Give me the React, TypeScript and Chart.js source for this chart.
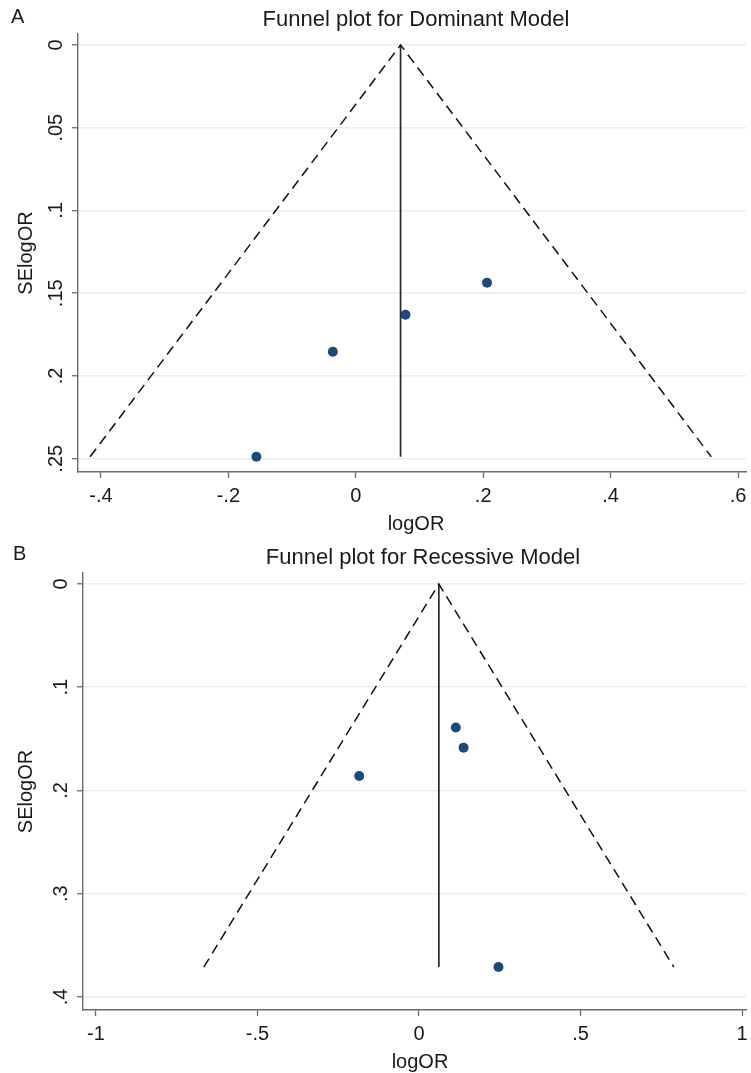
import React, { useEffect, useRef } from 'react';
import { Chart, registerables } from 'chart.js';

Chart.register(...registerables);

const FONT = "'Liberation Sans', Arial, Helvetica, sans-serif";

// ---------- Panel A: Dominant model ----------
const A_LOGOR = [0.206, 0.078, -0.036, -0.156];
const A_SE = [0.1437, 0.163, 0.1854, 0.2488];
const A_FUNNEL_X = [-0.417, 0.0703, 0.558];
const A_FUNNEL_Y = [0.2488, 0, 0.2488];
const A_POOLED_X = [0.0703, 0.0703];
const A_POOLED_Y = [0, 0.2488];
const A_X_TICKS = [-0.4, -0.2, 0, 0.2, 0.4, 0.6];
const A_X_LABELS = ['-.4', '-.2', '0', '.2', '.4', '.6'];
const A_Y_TICKS = [0, 0.05, 0.1, 0.15, 0.2, 0.25];
const A_Y_LABELS = ['0', '.05', '.1', '.15', '.2', '.25'];

// ---------- Panel B: Recessive model ----------
const B_LOGOR = [0.114, 0.138, -0.185, 0.246];
const B_SE = [0.139, 0.1585, 0.186, 0.371];
const B_FUNNEL_X = [-0.666, 0.0615, 0.789];
const B_FUNNEL_Y = [0.371, 0, 0.371];
const B_POOLED_X = [0.0615, 0.0615];
const B_POOLED_Y = [0, 0.371];
const B_X_TICKS = [-1, -0.5, 0, 0.5, 1];
const B_X_LABELS = ['-1', '-.5', '0', '.5', '1'];
const B_Y_TICKS = [0, 0.1, 0.2, 0.3, 0.4];
const B_Y_LABELS = ['0', '.1', '.2', '.3', '.4'];

const AXIS_COLOR = '#6a6a6a';
const GRID_COLOR = '#e5eff1';
const POINT_COLOR = '#1b4a78';
const TEXT_COLOR = '#1a1a1a';

type PanelCfg = {
  height: number;
  letter: string;
  letterX: number;
  letterY: number;
  title: string;
  titleX: number;
  titleY: number;
  padTop: number;
  yAxisWidth: number;
  plotBottom: number;
  xMin: number;
  xMax: number;
  yMin: number;
  yMax: number;
  logor: number[];
  se: number[];
  funnelX: number[];
  funnelY: number[];
  pooledX: number[];
  pooledY: number[];
  xTicks: number[];
  xLabels: string[];
  yTicks: number[];
  yLabels: string[];
  yLabelBaseX: number;
  xTitleX: number;
};

function zip(xs: number[], ys: number[]) {
  return xs.map((x, i) => ({ x, y: ys[i] }));
}

function Panel({ cfg }: { cfg: PanelCfg }) {
  const ref = useRef<HTMLCanvasElement | null>(null);
  useEffect(() => {
    if (!ref.current) return;
    const textPlugin = {
      id: 'texts',
      afterDraw(chart: any) {
        const ctx = chart.ctx as CanvasRenderingContext2D;
        const xs = chart.scales.x;
        const ys = chart.scales.y;
        const area = chart.chartArea;
        ctx.save();
        ctx.fillStyle = TEXT_COLOR;
        ctx.textBaseline = 'alphabetic';
        // panel letter
        ctx.font = `20px ${FONT}`;
        ctx.textAlign = 'left';
        ctx.fillText(cfg.letter, cfg.letterX, cfg.letterY);
        // title
        ctx.font = `22px ${FONT}`;
        ctx.textAlign = 'center';
        ctx.fillText(cfg.title, cfg.titleX, cfg.titleY);
        // x tick labels
        ctx.font = `20px ${FONT}`;
        cfg.xTicks.forEach((v, i) => {
          ctx.fillText(cfg.xLabels[i], xs.getPixelForValue(v), area.bottom + 30);
        });
        // x axis title
        ctx.fillText('logOR', cfg.xTitleX, area.bottom + 58);
        // y tick labels (rotated)
        cfg.yTicks.forEach((v, i) => {
          ctx.save();
          ctx.translate(cfg.yLabelBaseX, ys.getPixelForValue(v));
          ctx.rotate(-Math.PI / 2);
          ctx.textAlign = 'center';
          ctx.fillText(cfg.yLabels[i], 0, 0);
          ctx.restore();
        });
        // y axis title
        ctx.save();
        ctx.translate(32, (area.top + area.bottom) / 2);
        ctx.rotate(-Math.PI / 2);
        ctx.textAlign = 'center';
        ctx.fillText('SElogOR', 0, 0);
        ctx.restore();
        ctx.restore();
      },
    };

    const chart = new Chart(ref.current, {
      type: 'scatter',
      data: {
        datasets: [
          {
            data: zip(cfg.funnelX, cfg.funnelY),
            showLine: true,
            borderColor: '#111111',
            borderWidth: 1.5,
            borderDash: [10, 6],
            pointRadius: 0,
            fill: false,
          },
          {
            data: zip(cfg.pooledX, cfg.pooledY),
            showLine: true,
            borderColor: '#2a2a2a',
            borderWidth: 1.7,
            pointRadius: 0,
            fill: false,
          },
          {
            data: zip(cfg.logor, cfg.se),
            showLine: false,
            pointRadius: 5,
            pointBackgroundColor: POINT_COLOR,
            pointBorderColor: POINT_COLOR,
            pointBorderWidth: 0,
          },
        ],
      } as any,
      options: {
        responsive: false,
        animation: false,
        events: [],
        layout: { padding: { top: cfg.padTop, left: 0, right: 1, bottom: 0 } },
        plugins: {
          legend: { display: false },
          tooltip: { enabled: false },
          title: { display: false },
        },
        scales: {
          x: {
            type: 'linear',
            position: 'bottom',
            min: cfg.xMin,
            max: cfg.xMax,
            afterBuildTicks: (s: any) => {
              s.ticks = cfg.xTicks.map((v) => ({ value: v }));
            },
            afterFit: (s: any) => {
              s.height = cfg.height - cfg.plotBottom;
            },
            ticks: { display: false },
            grid: {
              display: true,
              drawOnChartArea: false,
              drawTicks: true,
              tickLength: 6,
              tickColor: AXIS_COLOR,
              tickWidth: 1.3,
            },
            border: { display: true, color: AXIS_COLOR, width: 1.4 },
          },
          y: {
            type: 'linear',
            position: 'left',
            reverse: true,
            min: cfg.yMin,
            max: cfg.yMax,
            afterBuildTicks: (s: any) => {
              s.ticks = cfg.yTicks.map((v) => ({ value: v }));
            },
            afterFit: (s: any) => {
              s.width = cfg.yAxisWidth;
            },
            ticks: { display: false },
            grid: {
              display: true,
              drawOnChartArea: true,
              color: GRID_COLOR,
              lineWidth: 1.5,
              drawTicks: true,
              tickLength: 6,
              tickColor: AXIS_COLOR,
              tickWidth: 1.3,
            },
            border: { display: true, color: AXIS_COLOR, width: 1.4 },
          },
        },
      } as any,
      plugins: [textPlugin],
    });
    return () => chart.destroy();
  }, [cfg]);
  return (
    <canvas
      ref={ref}
      width={751}
      height={cfg.height}
      style={{ display: 'block', width: 751, height: cfg.height }}
    />
  );
}

const PANEL_A: PanelCfg = {
  height: 540,
  letter: 'A',
  letterX: 11,
  letterY: 23,
  title: 'Funnel plot for Dominant Model',
  titleX: 416,
  titleY: 26,
  padTop: 34,
  yAxisWidth: 78,
  plotBottom: 472,
  xMin: -0.436,
  xMax: 0.6125,
  yMin: -0.0066,
  yMax: 0.258,
  logor: A_LOGOR,
  se: A_SE,
  funnelX: A_FUNNEL_X,
  funnelY: A_FUNNEL_Y,
  pooledX: A_POOLED_X,
  pooledY: A_POOLED_Y,
  xTicks: A_X_TICKS,
  xLabels: A_X_LABELS,
  yTicks: A_Y_TICKS,
  yLabels: A_Y_LABELS,
  yLabelBaseX: 62,
  xTitleX: 416,
};

const PANEL_B: PanelCfg = {
  height: 533,
  letter: 'B',
  letterX: 13,
  letterY: 20,
  title: 'Funnel plot for Recessive Model',
  titleX: 423,
  titleY: 24,
  padTop: 33,
  yAxisWidth: 83,
  plotBottom: 470,
  xMin: -1.04,
  xMax: 1.0123,
  yMin: -0.01065,
  yMax: 0.4126,
  logor: B_LOGOR,
  se: B_SE,
  funnelX: B_FUNNEL_X,
  funnelY: B_FUNNEL_Y,
  pooledX: B_POOLED_X,
  pooledY: B_POOLED_Y,
  xTicks: B_X_TICKS,
  xLabels: B_X_LABELS,
  yTicks: B_Y_TICKS,
  yLabels: B_Y_LABELS,
  yLabelBaseX: 67,
  xTitleX: 420,
};

export default function App() {
  return (
    <div
      style={{
        position: 'absolute',
        left: 0,
        top: 0,
        width: 751,
        height: 1073,
        background: '#ffffff',
      }}
    >
      <Panel cfg={PANEL_A} />
      <Panel cfg={PANEL_B} />
    </div>
  );
}
